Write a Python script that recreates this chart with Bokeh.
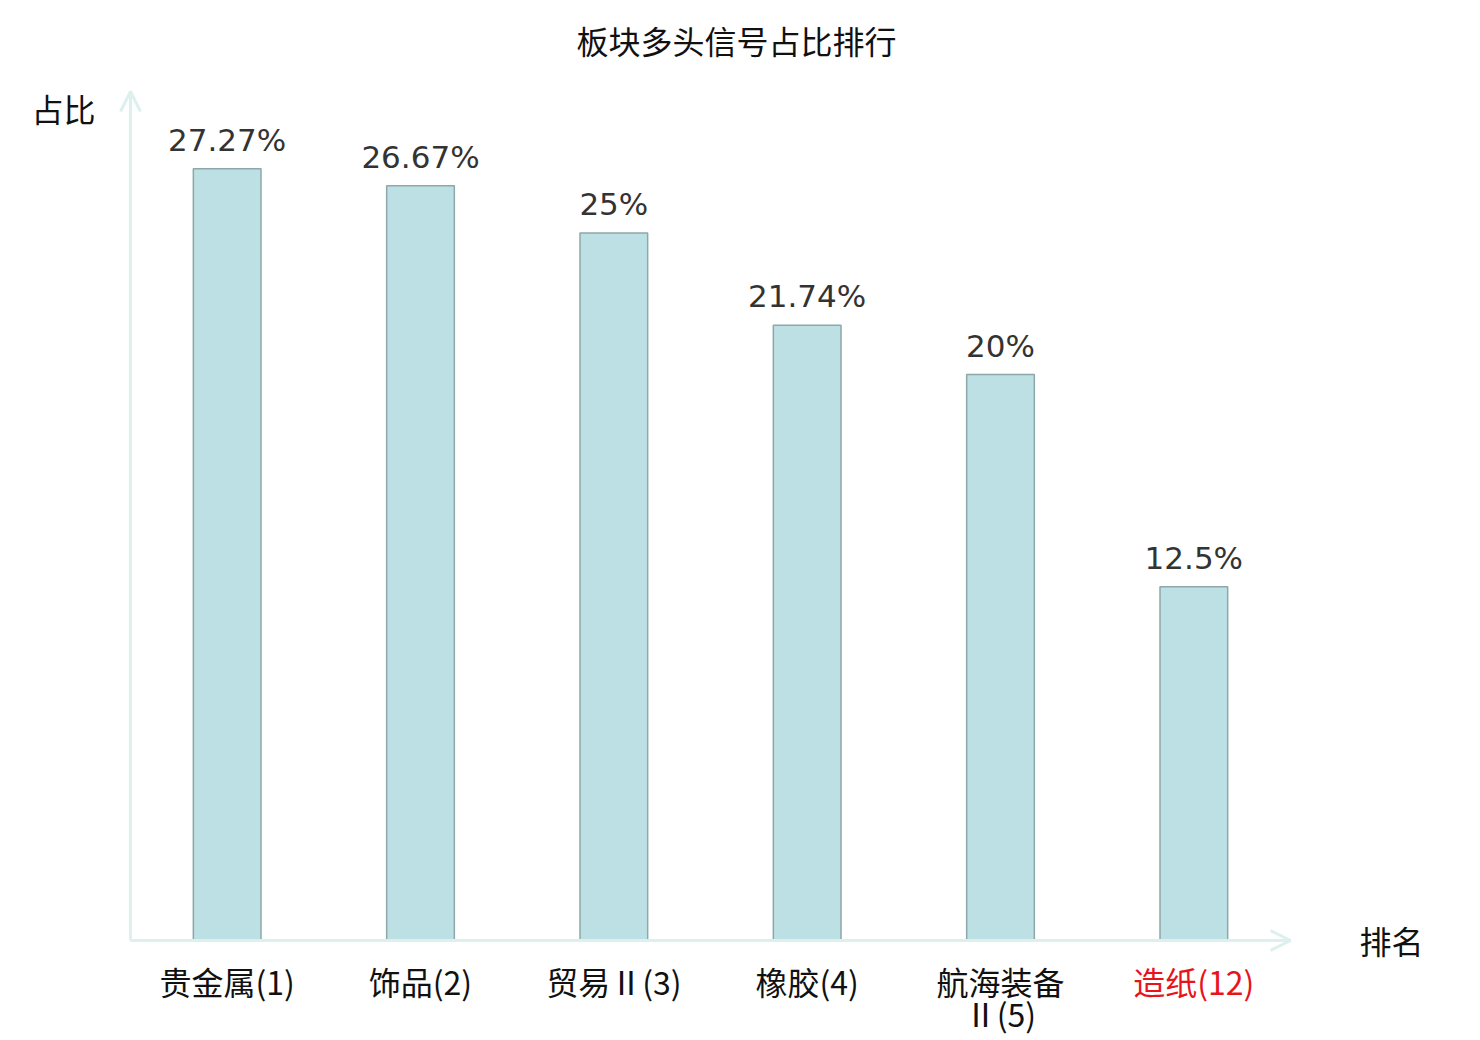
from bokeh.plotting import figure
from bokeh.models import ColumnDataSource, LabelSet, Label, Arrow, OpenHead, Range1d
from bokeh.core.properties import value
from bokeh.embed import file_html
from bokeh.resources import INLINE

categories = ["贵金属(1)", "饰品(2)", "贸易Ⅱ(3)", "橡胶(4)", "航海装备\nⅡ(5)", "造纸(12)"]
values = [27.27, 26.67, 25.0, 21.74, 20.0, 12.5]
value_labels = ["27.27%", "26.67%", "25%", "21.74%", "20%", "12.5%"]
label_colors = ["#111111", "#111111", "#111111", "#111111", "#111111", "#e8141c"]
title_text = "板块多头信号占比排行"
y_name = "占比"
x_name = "排名"
y_max = 30

CJK = "Noto Sans CJK SC"
AXIS_COLOR = "#dcf1ee"

W, H = 1472, 1036
# plot area (in pixels) where the category band [0, n] and value range [0, y_max] live
left_px, right_px, top_px, bottom_px = 130, 1290, 91, 940
n = len(categories)
xu = (right_px - left_px) / n
yu = (bottom_px - top_px) / y_max

p = figure(width=W, height=H,
           x_range=Range1d(-left_px / xu, n + (W - right_px) / xu),
           y_range=Range1d(-(H - bottom_px) / yu, y_max + top_px / yu),
           x_axis_type=None, y_axis_type=None,
           output_backend="svg", toolbar_location=None,
           min_border=0, min_border_left=0, min_border_right=0,
           min_border_top=0, min_border_bottom=0)
p.grid.visible = False
p.outline_line_color = None
p.background_fill_color = "white"
p.border_fill_color = "white"

xpos = [i + 0.5 for i in range(n)]
line1 = [c.split("\n")[0] for c in categories]
line2 = [c.split("\n")[1] if "\n" in c else "" for c in categories]
src = ColumnDataSource(dict(x=xpos, cat=categories, l1=line1, l2=line2, val=values,
                            lab=value_labels, col=label_colors))

p.vbar(x="x", top="val", width=0.35, source=src, fill_color="#bce0e3",
       line_color="#8ea7a8", line_width=1.5)

# axes with arrows
p.add_layout(Arrow(x_start=0, y_start=0, x_end=n, y_end=0, line_color=AXIS_COLOR, line_width=3,
                   end=OpenHead(size=20, line_color=AXIS_COLOR, line_width=3)))
p.add_layout(Arrow(x_start=0, y_start=0, x_end=0, y_end=y_max, line_color=AXIS_COLOR, line_width=3,
                   end=OpenHead(size=20, line_color=AXIS_COLOR, line_width=3)))

p.add_layout(LabelSet(x="x", y="val", text="lab", source=src, text_align="center",
                      text_baseline="alphabetic", y_offset=18, text_font=value("DejaVu Sans"),
                      text_font_size=value("31px"), text_color=value("#333333")))

for txt, off in (("l1", -40), ("l2", -72)):
    p.add_layout(LabelSet(x="x", y=0, text=txt, source=src, text_align="center",
                          text_baseline="middle", y_offset=off, text_font=value(CJK),
                          text_font_size=value("32px"), text_color="col"))

p.add_layout(Label(x=n / 2, y=y_max, x_offset=26, y_offset=52, text=title_text, text_font=CJK,
                   text_font_size="32px", text_align="center", text_baseline="middle",
                   text_color="#111111"))
p.add_layout(Label(x=0, y=y_max, x_offset=-67, y_offset=-16, text=y_name, text_font=CJK,
                   text_font_size="32px", text_align="center", text_baseline="middle",
                   text_color="#111111"))
p.add_layout(Label(x=n, y=0, x_offset=101, y_offset=1, text=x_name, text_font=CJK,
                   text_font_size="32px", text_align="center", text_baseline="middle",
                   text_color="#111111"))

open("out.html", "w").write(file_html(p, INLINE))
